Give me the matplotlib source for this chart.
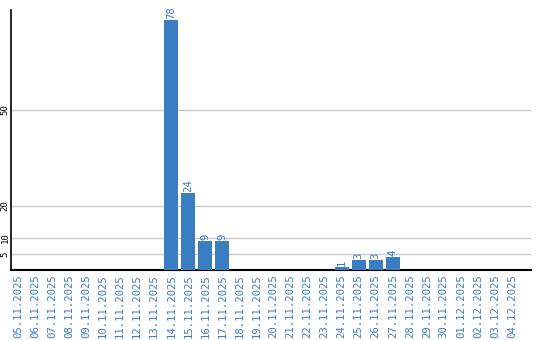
import matplotlib
matplotlib.use("Agg")
import matplotlib.pyplot as plt

# data
dates = ["05.11.2025", "06.11.2025", "07.11.2025", "08.11.2025", "09.11.2025",
         "10.11.2025", "11.11.2025", "12.11.2025", "13.11.2025", "14.11.2025",
         "15.11.2025", "16.11.2025", "17.11.2025", "18.11.2025", "19.11.2025",
         "20.11.2025", "21.11.2025", "22.11.2025", "23.11.2025", "24.11.2025",
         "25.11.2025", "26.11.2025", "27.11.2025", "28.11.2025", "29.11.2025",
         "30.11.2025", "01.12.2025", "02.12.2025", "03.12.2025", "04.12.2025"]
counts = [0, 0, 0, 0, 0, 0, 0, 0, 0, 78,
          24, 9, 9, 0, 0, 0, 0, 0, 0, 1,
          3, 3, 4, 0, 0, 0, 0, 0, 0, 0]
yticks = [5, 10, 20, 50]

BLUE = "#3b7dc1"
FONT = "DejaVu Sans Mono"

fig = plt.figure(figsize=(5.4, 3.4), dpi=100)
ax = fig.add_axes([11 / 540, 70 / 340, 520 / 540, 260 / 340])

x = list(range(len(dates)))
ax.bar(x, counts, width=0.82, color=BLUE, zorder=3)

# value labels above non-zero bars
for xi, v in zip(x, counts):
    if v > 0:
        ax.text(xi, v + 0.3, str(v), rotation=90, ha="center", va="bottom",
                color=BLUE, fontsize=7.7, family=FONT)

ax.set_xlim(-0.41, len(dates) - 1 + 1.12)
ax.set_ylim(0, 81)

ax.set_yticks(yticks)
ax.set_yticklabels([str(t) for t in yticks], rotation=90, va="center",
                   fontsize=6.5, family=FONT, color="black")
ax.tick_params(axis="y", length=0, pad=1)
ax.yaxis.grid(True, color="#c8c8c8", linewidth=1, zorder=0)

ax.set_xticks(x)
ax.set_xticklabels(dates, rotation=90, fontsize=7.7, family=FONT, color=BLUE)
ax.tick_params(axis="x", length=0, pad=3)

for s in ["top", "right"]:
    ax.spines[s].set_visible(False)
ax.spines["left"].set_color("black")
ax.spines["bottom"].set_color("black")
ax.spines["left"].set_linewidth(1.2)
ax.spines["bottom"].set_linewidth(1.5)

fig.savefig("out.png", dpi=100)
